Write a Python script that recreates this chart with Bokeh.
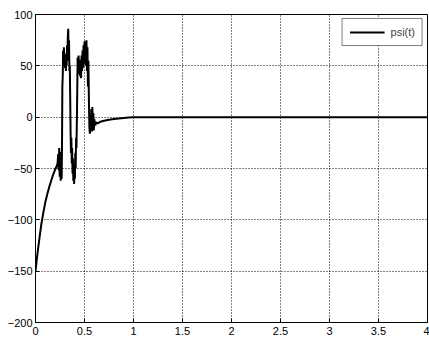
from bokeh.plotting import figure
from bokeh.models import FixedTicker, Range1d, Legend, LegendItem
from bokeh.embed import file_html
from bokeh.resources import INLINE

t = [0.000, 0.020, 0.040, 0.060, 0.080, 0.100, 0.120, 0.140, 0.160, 0.180,
     0.200, 0.215, 0.225, 0.232, 0.237, 0.242, 0.247, 0.252, 0.257, 0.262,
     0.267, 0.271, 0.274, 0.278, 0.282, 0.286, 0.290, 0.294, 0.298, 0.302,
     0.306, 0.310, 0.314, 0.318, 0.322, 0.326, 0.330, 0.334, 0.338, 0.342,
     0.346, 0.350, 0.354, 0.358, 0.362, 0.366, 0.370, 0.374, 0.378, 0.382,
     0.386, 0.390, 0.394, 0.398, 0.402, 0.406, 0.410, 0.414, 0.418, 0.424,
     0.430, 0.435, 0.440, 0.445, 0.450, 0.455, 0.460, 0.465, 0.470, 0.475,
     0.480, 0.485, 0.490, 0.495, 0.500, 0.505, 0.510, 0.515, 0.520, 0.525,
     0.530, 0.535, 0.540, 0.545, 0.550, 0.555, 0.560, 0.565, 0.570, 0.575,
     0.580, 0.585, 0.590, 0.595, 0.600, 0.610, 0.620, 0.635, 0.660, 0.700,
     0.750, 0.800, 0.850, 0.900, 0.950, 1.000, 1.050, 2.000, 3.000, 4.000]
psi = [-150, -133, -118, -104, -93, -83, -75, -68, -62, -56,
       -51, -48, -45, -36, -52, -30, -58, -34, -62, -40,
       -60, -20, 30, 40, 65, 55, 68, 50, 62, 48,
       58, 45, 60, 50, 70, 55, 80, 86, 60, 75,
       45, 50, 20, -15, -35, -20, -45, -30, -55, -40,
       -62, -48, -65, -50, -60, -35, -50, -20, -30, 10,
       58, 48, 60, 42, 56, 40, 52, 38, 60, 45,
       65, 48, 70, 52, 74, 55, 72, 50, 75, 45,
       68, 30, 55, 15, -10, -16, -2, -12, 8, -14,
       10, -10, 4, -13, -2, -8, -5, -6, -4.5, -3.5,
       -2.5, -1.8, -1.2, -0.8, -0.4, -0.1, 0, 0, 0, 0]

x_ticks = [0, 0.5, 1, 1.5, 2, 2.5, 3, 3.5, 4]
y_ticks = [-200, -150, -100, -50, 0, 50, 100]
series_name = "psi(t)"

FONT = "Liberation Sans"

p = figure(width=429, height=337, output_backend="svg", toolbar_location=None,
           x_range=Range1d(0, 4), y_range=Range1d(-200, 100),
           min_border_left=35, min_border_right=2, min_border_top=14, min_border_bottom=15)
p.background_fill_color = "white"
p.border_fill_color = "white"
p.outline_line_color = "black"
p.outline_line_width = 1

for ax in (p.xaxis[0], p.yaxis[0]):
    ax.major_label_text_font = FONT
    ax.major_label_text_font_size = "11px"
    ax.major_label_text_color = "black"
    ax.axis_line_color = "black"
    ax.major_tick_line_color = "black"
    ax.major_tick_in = 4
    ax.major_tick_out = 0
    ax.minor_tick_line_color = None
    ax.major_label_standoff = 3
p.xaxis[0].major_label_standoff = 4

p.xaxis[0].ticker = FixedTicker(ticks=x_ticks)
p.yaxis[0].ticker = FixedTicker(ticks=y_ticks)
p.xaxis[0].major_label_overrides = {v: ("%g" % v) for v in x_ticks}

p.xgrid.ticker = FixedTicker(ticks=x_ticks)
p.ygrid.ticker = FixedTicker(ticks=y_ticks)
for g in (p.xgrid[0], p.ygrid[0]):
    g.grid_line_color = "black"
    g.grid_line_dash = "1 2"
    g.grid_line_width = 1
    g.grid_line_alpha = 1.0

r = p.line(t, psi, line_color="black", line_width=2)

legend = Legend(items=[LegendItem(label=series_name, renderers=[r])],
                location="top_right")
legend.label_text_font = FONT
legend.label_text_font_size = "11px"
legend.border_line_color = "black"
legend.border_line_width = 1
legend.background_fill_color = "white"
legend.background_fill_alpha = 1
legend.glyph_width = 35
legend.glyph_height = 10
legend.label_height = 10
legend.label_standoff = 6
legend.padding = 7
legend.margin = 4
p.add_layout(legend)

open("out.html", "w").write(file_html(p, INLINE))
